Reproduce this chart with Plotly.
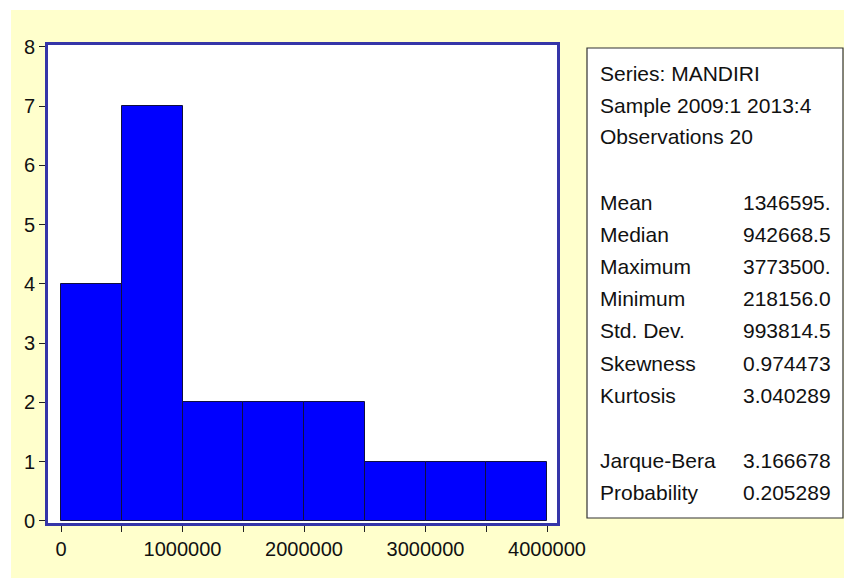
import plotly.graph_objects as go

# Histogram of MANDIRI: bin edges (width 500000) and observation counts
bin_edges = [0, 500000, 1000000, 1500000, 2000000, 2500000, 3000000, 3500000, 4000000]
counts = [4, 7, 2, 2, 2, 1, 1, 1]

# Summary statistics panel
header_lines = ["Series: MANDIRI", "Sample 2009:1 2013:4", "Observations 20"]
stat_names = ["Mean", "Median", "Maximum", "Minimum", "Std. Dev.", "Skewness", "Kurtosis"]
stat_values = ["1346595.", "942668.5", "3773500.", "218156.0", "993814.5", "0.974473", "3.040289"]
test_names = ["Jarque-Bera", "Probability"]
test_values = ["3.166678", "0.205289"]

x_tick_vals = [0, 500000, 1000000, 1500000, 2000000, 2500000, 3000000, 3500000, 4000000]
x_tick_text = ["0", "", "1000000", "", "2000000", "", "3000000", "", "4000000"]
y_tick_vals = [0, 1, 2, 3, 4, 5, 6, 7, 8]

W, H = 844, 582
L, R, T, B = 48, 287, 45, 59
PW, PH = W - L - R, H - T - B


def px(x):
    return (x - L) / PW


def py(y):
    return (H - B - y) / PH


centers = [(a + b) / 2 for a, b in zip(bin_edges[:-1], bin_edges[1:])]
widths = [b - a for a, b in zip(bin_edges[:-1], bin_edges[1:])]

fig = go.Figure(go.Bar(
    x=centers, y=counts, width=widths,
    marker=dict(color="#0000FF", line=dict(color="#101040", width=1)),
    hoverinfo="x+y",
))

font = "Liberation Sans, Arial, sans-serif"

shapes = [
    # pale yellow page
    dict(type="rect", xref="paper", yref="paper", layer="below",
         x0=px(11), x1=px(844), y0=py(578), y1=py(10),
         fillcolor="#FFFFCC", line=dict(width=0)),
    # white plotting area
    dict(type="rect", xref="paper", yref="paper", layer="below",
         x0=0, x1=1, y0=0, y1=1, fillcolor="white", line=dict(width=0)),
    # statistics box
    dict(type="rect", xref="paper", yref="paper",
         x0=px(587), x1=px(843), y0=py(518), y1=py(48),
         fillcolor="white", line=dict(color="#333333", width=1.2), layer="below"),
]

annotations = []
lx, rx = px(598), px(833)
header_y = [73, 105.5, 137]
for t, yy in zip(header_lines, header_y):
    annotations.append(dict(x=lx, y=py(yy), xref="paper", yref="paper", text=t,
                            showarrow=False, xanchor="left", yanchor="middle"))
stat_y = [202, 234.2, 266.4, 298.6, 330.8, 363, 395.2]
for n, v, yy in zip(stat_names, stat_values, stat_y):
    annotations.append(dict(x=lx, y=py(yy), xref="paper", yref="paper", text=n,
                            showarrow=False, xanchor="left", yanchor="middle"))
    annotations.append(dict(x=rx, y=py(yy), xref="paper", yref="paper", text=v,
                            showarrow=False, xanchor="right", yanchor="middle"))
test_y = [460, 492]
for n, v, yy in zip(test_names, test_values, test_y):
    annotations.append(dict(x=lx, y=py(yy), xref="paper", yref="paper", text=n,
                            showarrow=False, xanchor="left", yanchor="middle"))
    annotations.append(dict(x=rx, y=py(yy), xref="paper", yref="paper", text=v,
                            showarrow=False, xanchor="right", yanchor="middle"))

fig.update_layout(
    width=W, height=H,
    margin=dict(l=L, r=R, t=T, b=B, pad=0),
    paper_bgcolor="white", plot_bgcolor="rgba(0,0,0,0)",
    showlegend=False, bargap=0,
    font=dict(family=font, size=21, color="#111111"),
    shapes=shapes, annotations=annotations,
    xaxis=dict(range=[-107000, 4082000], tickvals=x_tick_vals, ticktext=x_tick_text,
               ticks="outside", ticklen=6, tickcolor="#222222", tickwidth=1,
               showgrid=False, zeroline=False, showline=True, linecolor="#3535A8",
               linewidth=3, mirror=True, tickfont=dict(size=20, family=font, color="#111111")),
    yaxis=dict(range=[-0.035, 8.03], tickvals=y_tick_vals,
               ticks="outside", ticklen=6, tickcolor="#222222", tickwidth=1,
               showgrid=False, zeroline=False, showline=True, linecolor="#3535A8",
               linewidth=3, mirror=True, tickfont=dict(size=20, family=font, color="#111111")),
)

fig.write_html("out.html")
